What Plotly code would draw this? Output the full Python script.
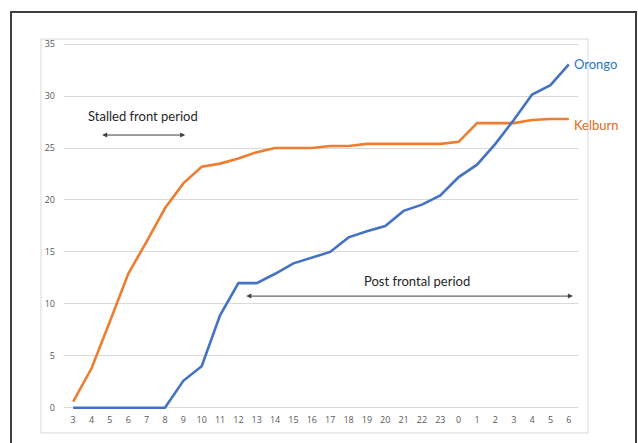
import plotly.graph_objects as go

hours = ["3", "4", "5", "6", "7", "8", "9", "10", "11", "12", "13", "14", "15", "16",
         "17", "18", "19", "20", "21", "22", "23", "0", "1", "2", "3", "4", "5", "6"]
kelburn = [0.6, 3.8, 8.3, 12.9, 16.0, 19.2, 21.6, 23.2, 23.5, 24.0, 24.6, 25.0, 25.0, 25.0,
           25.2, 25.2, 25.4, 25.4, 25.4, 25.4, 25.4, 25.6, 27.4, 27.4, 27.4, 27.7, 27.8, 27.8]
orongo = [0, 0, 0, 0, 0, 0, 2.6, 4.0, 8.9, 12.0, 12.0, 12.9, 13.9, 14.45,
          15.0, 16.4, 17.0, 17.5, 18.95, 19.55, 20.45, 22.2, 23.4, 25.4, 27.7, 30.15, 31.05, 33.05]
yticks = [0, 5, 10, 15, 20, 25, 30, 35]

idx = list(range(len(hours)))

W, H = 638, 443
L, R, T, B = 64, 578, 41, 413  # plot area in px


def px(x):
    return (x - L) / (R - L)


def py(y):
    return (B - y) / (B - T)


fig = go.Figure()
fig.add_trace(go.Scatter(x=idx, y=kelburn, mode="lines", name="Kelburn",
                         line=dict(color="#ED7D31", width=2.6), cliponaxis=False))
fig.add_trace(go.Scatter(x=idx, y=orongo, mode="lines", name="Orongo",
                         line=dict(color="#4472C4", width=2.6), cliponaxis=False))

shapes = [
    dict(type="rect", xref="paper", yref="paper", x0=px(41), x1=px(588), y0=py(433), y1=py(39),
         line=dict(color="#D9D9D9", width=1), layer="below"),
    dict(type="rect", xref="paper", yref="paper", x0=px(11), x1=px(636), y0=py(460), y1=py(12),
         line=dict(color="#3F3F3F", width=2), layer="below"),
]

annotations = [
    dict(x=idx[-1] + 0.2, y=orongo[-1], xref="x", yref="y", text="Orongo", showarrow=False,
         xanchor="left", yanchor="middle", font=dict(color="#1F77C9", size=13, family="Lato")),
    dict(x=idx[-1] + 0.2, y=kelburn[-1] - 0.55, xref="x", yref="y", text="Kelburn", showarrow=False,
         xanchor="left", yanchor="middle", font=dict(color="#E06A1B", size=13, family="Lato")),
    dict(x=3.8, y=28.1, xref="x", yref="y", text="Stalled front period", showarrow=False,
         xanchor="center", yanchor="middle", font=dict(color="#262626", size=13, family="Lato")),
    dict(x=18.75, y=12.2, xref="x", yref="y", text="Post frontal period", showarrow=False,
         xanchor="center", yanchor="middle", font=dict(color="#262626", size=13, family="Lato")),
    dict(x=6.1, y=26.25, ax=1.5, ay=26.25, xref="x", yref="y", axref="x", ayref="y", text="",
         showarrow=True, arrowhead=2, startarrowhead=2, arrowside="end+start", arrowsize=1,
         arrowwidth=1, arrowcolor="#404040", startarrowsize=1),
    dict(x=27.22, y=10.75, ax=9.35, ay=10.75, xref="x", yref="y", axref="x", ayref="y", text="",
         showarrow=True, arrowhead=2, startarrowhead=2, arrowside="end+start", arrowsize=1,
         arrowwidth=1, arrowcolor="#404040", startarrowsize=1),
]

fig.update_layout(
    width=W, height=H,
    margin=dict(l=L, r=W - R, t=T, b=H - B, pad=0),
    paper_bgcolor="white", plot_bgcolor="white",
    showlegend=False,
    font=dict(family="Open Sans", color="#595959", size=9),
    shapes=shapes, annotations=annotations,
    xaxis=dict(range=[-0.5, len(hours) - 0.5], tickvals=idx, ticktext=hours,
               showgrid=False, zeroline=False, showline=False, ticks="",
               tickfont=dict(size=9, color="#595959"), fixedrange=True),
    yaxis=dict(range=[-0.5, 35.3], tickvals=yticks, showgrid=True, gridcolor="#D9D9D9",
               gridwidth=1, zeroline=False, showline=False, ticks="",
               ticklabelstandoff=8, tickfont=dict(size=9, color="#595959"), fixedrange=True),
)

fig.write_html("out.html", config={"displayModeBar": False},
               post_script="document.body.style.margin='0px';document.body.style.overflow='hidden';")
